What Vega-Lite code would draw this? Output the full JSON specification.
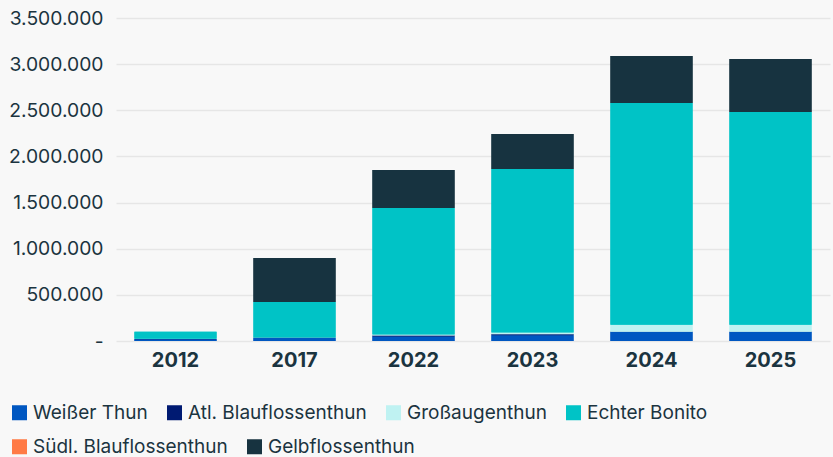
{
  "$schema": "https://vega.github.io/schema/vega-lite/v6.json",
  "width": 714,
  "height": 323,
  "autosize": {"type": "none"},
  "padding": {"left": 116, "top": 18, "right": 3, "bottom": 116},
  "background": "#f8f8f8",
  "config": {
    "view": {"stroke": null},
    "font": "Inter",
    "locale": {"number": {"decimal": ",", "thousands": ".", "grouping": [3], "currency": ["", " €"]}},
    "legend": {
      "title": null,
      "orient": "none",
      "direction": "horizontal",
      "symbolType": "square",
      "symbolSize": 225,
      "symbolStrokeWidth": 0,
      "symbolOpacity": 1,
      "labelFontSize": 19,
      "labelColor": "#1b3440",
      "labelOffset": 4,
      "columnPadding": 17,
      "labelLimit": 400
    }
  },
  "data": {
    "values": [
      {"Jahr": "2012", "Art": "Weißer Thun", "Wert": 20000},
      {"Jahr": "2012", "Art": "Atl. Blauflossenthun", "Wert": 2000},
      {"Jahr": "2012", "Art": "Großaugenthun", "Wert": 2000},
      {"Jahr": "2012", "Art": "Echter Bonito", "Wert": 75000},
      {"Jahr": "2012", "Art": "Südl. Blauflossenthun", "Wert": 0},
      {"Jahr": "2012", "Art": "Gelbflossenthun", "Wert": 0},
      {"Jahr": "2017", "Art": "Weißer Thun", "Wert": 32000},
      {"Jahr": "2017", "Art": "Atl. Blauflossenthun", "Wert": 3000},
      {"Jahr": "2017", "Art": "Großaugenthun", "Wert": 3000},
      {"Jahr": "2017", "Art": "Echter Bonito", "Wert": 385000},
      {"Jahr": "2017", "Art": "Südl. Blauflossenthun", "Wert": 0},
      {"Jahr": "2017", "Art": "Gelbflossenthun", "Wert": 477000},
      {"Jahr": "2022", "Art": "Weißer Thun", "Wert": 50000},
      {"Jahr": "2022", "Art": "Atl. Blauflossenthun", "Wert": 10000},
      {"Jahr": "2022", "Art": "Großaugenthun", "Wert": 10000},
      {"Jahr": "2022", "Art": "Echter Bonito", "Wert": 1370000},
      {"Jahr": "2022", "Art": "Südl. Blauflossenthun", "Wert": 0},
      {"Jahr": "2022", "Art": "Gelbflossenthun", "Wert": 412000},
      {"Jahr": "2023", "Art": "Weißer Thun", "Wert": 62000},
      {"Jahr": "2023", "Art": "Atl. Blauflossenthun", "Wert": 10000},
      {"Jahr": "2023", "Art": "Großaugenthun", "Wert": 20000},
      {"Jahr": "2023", "Art": "Echter Bonito", "Wert": 1772000},
      {"Jahr": "2023", "Art": "Südl. Blauflossenthun", "Wert": 0},
      {"Jahr": "2023", "Art": "Gelbflossenthun", "Wert": 379000},
      {"Jahr": "2024", "Art": "Weißer Thun", "Wert": 97000},
      {"Jahr": "2024", "Art": "Atl. Blauflossenthun", "Wert": 3000},
      {"Jahr": "2024", "Art": "Großaugenthun", "Wert": 75000},
      {"Jahr": "2024", "Art": "Echter Bonito", "Wert": 2404000},
      {"Jahr": "2024", "Art": "Südl. Blauflossenthun", "Wert": 0},
      {"Jahr": "2024", "Art": "Gelbflossenthun", "Wert": 509000},
      {"Jahr": "2025", "Art": "Weißer Thun", "Wert": 97000},
      {"Jahr": "2025", "Art": "Atl. Blauflossenthun", "Wert": 3000},
      {"Jahr": "2025", "Art": "Großaugenthun", "Wert": 75000},
      {"Jahr": "2025", "Art": "Echter Bonito", "Wert": 2306000},
      {"Jahr": "2025", "Art": "Südl. Blauflossenthun", "Wert": 0},
      {"Jahr": "2025", "Art": "Gelbflossenthun", "Wert": 575000}
    ]
  },
  "transform": [
    {"calculate": "indexof(['Weißer Thun', 'Atl. Blauflossenthun', 'Großaugenthun', 'Echter Bonito', 'Südl. Blauflossenthun', 'Gelbflossenthun'], datum.Art)", "as": "Stapel"}
  ],
  "encoding": {
    "x": {
      "field": "Jahr",
      "type": "ordinal",
      "scale": {"paddingInner": 0.31, "paddingOuter": 0.155},
      "axis": {
        "title": null,
        "labelAngle": 0,
        "labelFontSize": 20,
        "labelFontWeight": "bold",
        "labelColor": "#1b3440",
        "labelPadding": 9,
        "ticks": false,
        "domain": false
      }
    },
    "y": {
      "field": "Wert",
      "type": "quantitative",
      "stack": "zero",
      "scale": {"domain": [0, 3500000], "nice": false},
      "axis": {
        "title": null,
        "values": [0, 500000, 1000000, 1500000, 2000000, 2500000, 3000000, 3500000],
        "labelExpr": "datum.value == 0 ? '-' : format(datum.value, ',.0f')",
        "labelFontSize": 19.3,
        "labelColor": "#1b3440",
        "labelPadding": 13,
        "ticks": false,
        "domain": false,
        "gridColor": "#e6e6e6",
        "gridWidth": 1.5
      }
    },
    "order": {"field": "Stapel", "type": "quantitative", "sort": "ascending"}
  },
  "layer": [
    {
      "mark": {"type": "bar"},
      "encoding": {
        "color": {
          "field": "Art",
          "type": "nominal",
          "scale": {
            "domain": ["Weißer Thun", "Atl. Blauflossenthun", "Großaugenthun", "Echter Bonito", "Südl. Blauflossenthun", "Gelbflossenthun"],
            "range": ["#0057c1", "#001a72", "#bff2f2", "#00c3c6", "#ff7a45", "#173340"]
          },
          "legend": {
            "values": ["Weißer Thun", "Atl. Blauflossenthun", "Großaugenthun", "Echter Bonito"],
            "legendX": -106,
            "legendY": 385
          }
        }
      }
    },
    {
      "mark": {"type": "bar"},
      "encoding": {
        "color": {
          "field": "Art",
          "type": "nominal",
          "legend": {
            "values": ["Südl. Blauflossenthun", "Gelbflossenthun"],
            "legendX": -106,
            "legendY": 419
          }
        }
      }
    }
  ],
  "resolve": {"legend": {"color": "independent"}}
}
